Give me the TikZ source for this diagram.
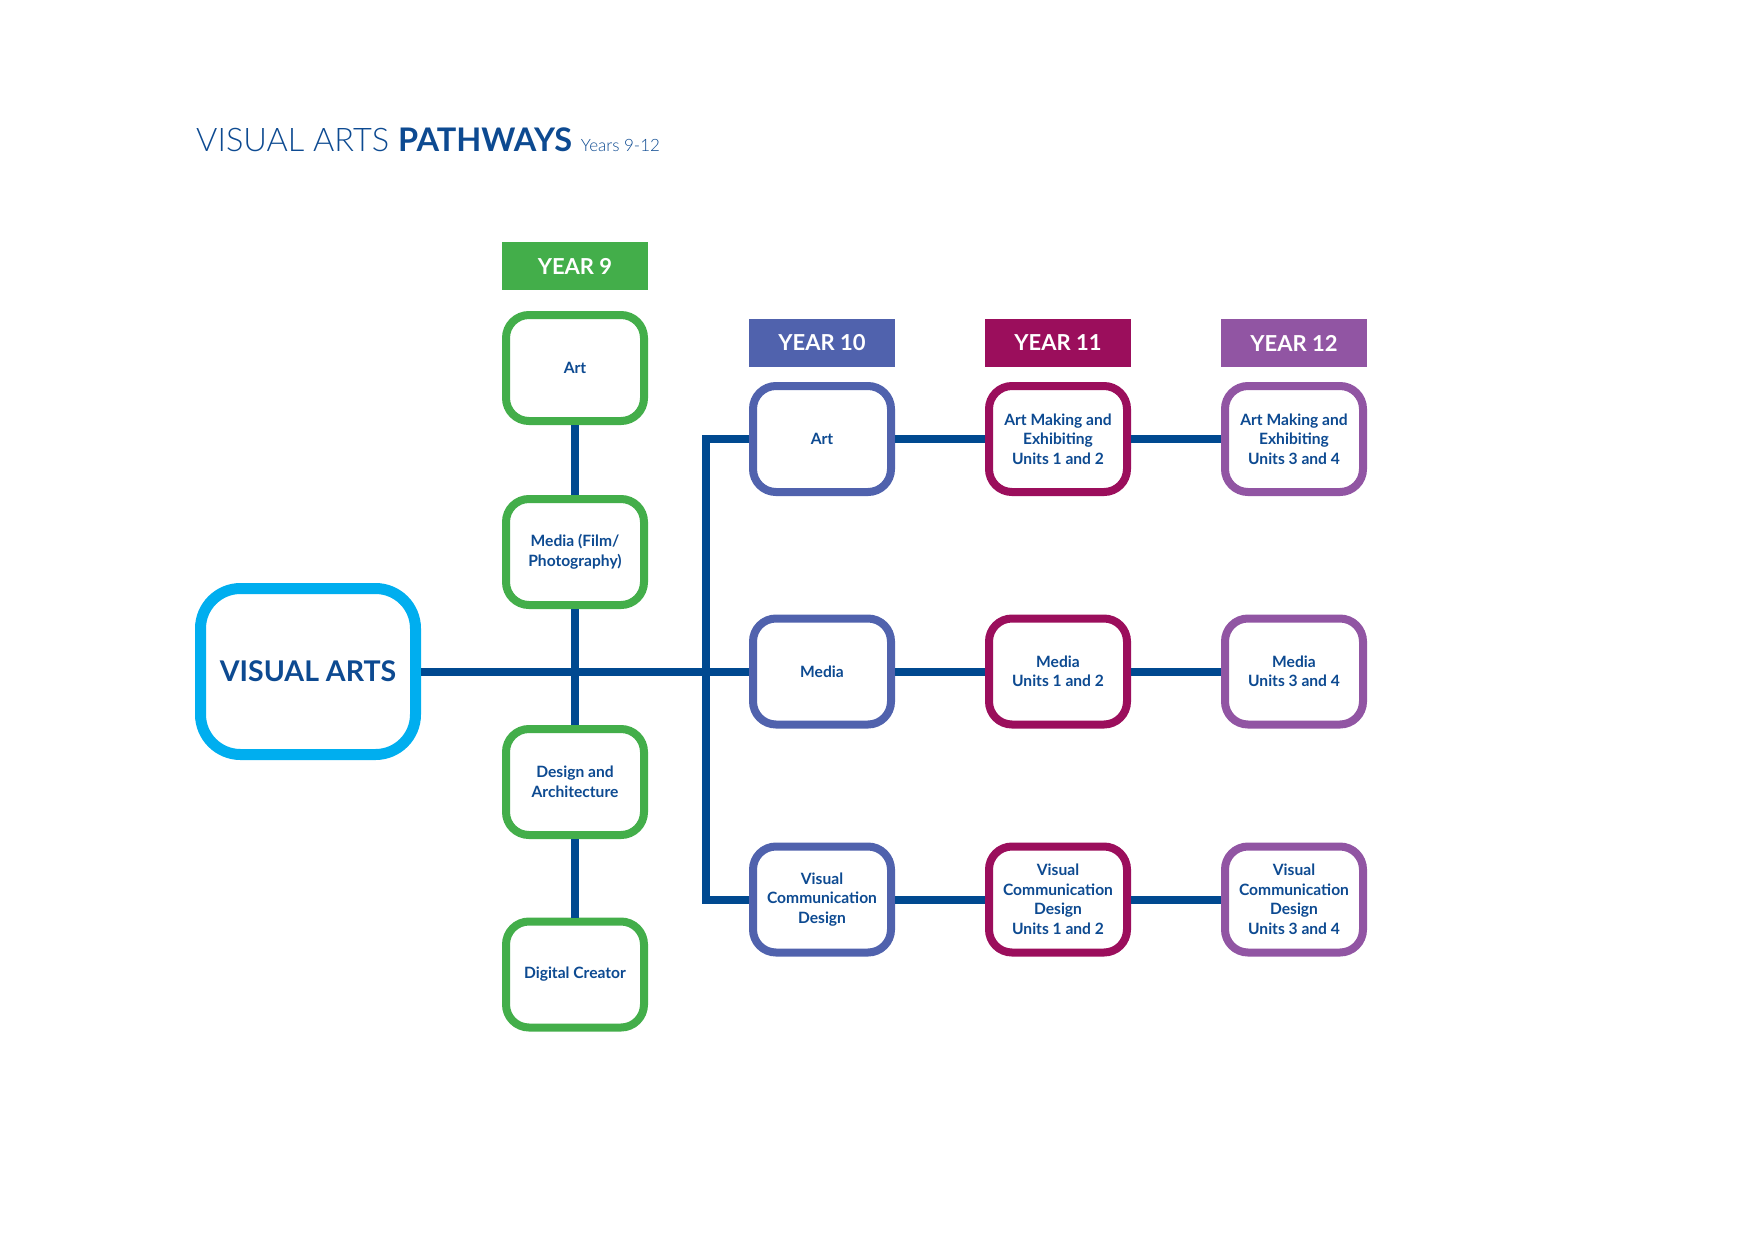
\documentclass[tikz,border=0pt]{standalone}
\usepackage{fontspec}
\setmainfont{Lato}
\newfontfamily\lightf{Lato Light}
\definecolor{gr}{HTML}{43AE4A}
\definecolor{cy}{HTML}{00AEEF}
\definecolor{lb}{HTML}{004990}
\definecolor{yten}{HTML}{5062AD}
\definecolor{yel}{HTML}{9B0E5C}
\definecolor{ytw}{HTML}{9155A3}
\definecolor{tb}{HTML}{0D4A91}
\newcommand{\boxfnt}{\bfseries\fontsize{15.6}{19.5}\selectfont}
\begin{document}
\begin{tikzpicture}[x=1pt,y=-1pt,
  pbox/.style={draw, line width=8pt, rounded corners=23pt, fill=white,
    minimum width=138pt, minimum height=106pt, inner sep=0pt, align=center,
    font=\boxfnt, text=tb},
  hdr/.style={minimum width=146pt, minimum height=48pt, inner sep=0pt,
    text=white, font=\bfseries\fontsize{22}{24}\selectfont},
  conn/.style={draw=lb, line width=8pt}]
\useasboundingbox (0,0) rectangle (1754,1240);
\node[anchor=base west, text=tb, font=\lightf\fontsize{32.5}{38}\selectfont, inner sep=0pt] (title) at (196,151)
  {VISUAL ARTS {\normalfont\fontsize{32.5}{38}\selectfont\bfseries PATHWAYS} {\fontsize{17}{20}\selectfont Years 9-12}};
% main
\node[draw=cy, line width=11pt, rounded corners=40pt, fill=white, minimum width=215pt,
  minimum height=166pt, inner sep=0pt, text=tb, font=\bfseries\fontsize{28.5}{30}\selectfont] (va) at (308,671.5) {VISUAL ARTS};
% headers
\node[hdr, fill=gr] (h9) at (575,266) {YEAR 9};
\node[hdr, fill=yten] (h10) at (822,343) {YEAR 10};
\node[hdr, fill=yel] (h11) at (1058,343) {YEAR 11};
\node[hdr, fill=ytw] (h12) at (1294,343) {YEAR 12};
% year 9
\node[pbox, draw=gr] (a9) at (575,368) {Art};
\node[pbox, draw=gr] (m9) at (575,552) {Media (Film/\\Photography)};
\node[pbox, draw=gr] (d9) at (575,782) {Design and\\Architecture};
\node[pbox, draw=gr] (c9) at (575,974.5) {Digital Creator};
% year 10
\node[pbox, draw=yten] (a10) at (822,439) {Art};
\node[pbox, draw=yten] (m10) at (822,671.5) {Media};
\node[pbox, draw=yten] (v10) at (822,899.5) {Visual\\Communication\\Design};
% year 11
\node[pbox, draw=yel] (a11) at (1058,439) {Art Making and\\Exhibiting\\Units 1 and 2};
\node[pbox, draw=yel] (m11) at (1058,671.5) {Media\\Units 1 and 2};
\node[pbox, draw=yel] (v11) at (1058,899.5) {Visual\\Communication\\Design\\Units 1 and 2};
% year 12
\node[pbox, draw=ytw] (a12) at (1294,439) {Art Making and\\Exhibiting\\Units 3 and 4};
\node[pbox, draw=ytw] (m12) at (1294,671.5) {Media\\Units 3 and 4};
\node[pbox, draw=ytw] (v12) at (1294,899.5) {Visual\\Communication\\Design\\Units 3 and 4};
% connectors
\coordinate (tt) at (706,439);
\coordinate (tbm) at (706,899.5);
\draw[conn] (a9) -- (m9);
\draw[conn] (m9) -- (d9);
\draw[conn] (d9) -- (c9);
\draw[conn] (va.east) -- (m10.west);
\draw[conn] (a10.west) -- (tt) -- (tbm) -- (v10.west);
\draw[conn] (a10) -- (a11);
\draw[conn] (a11) -- (a12);
\draw[conn] (m10) -- (m11);
\draw[conn] (m11) -- (m12);
\draw[conn] (v10) -- (v11);
\draw[conn] (v11) -- (v12);
\end{tikzpicture}
\end{document}
